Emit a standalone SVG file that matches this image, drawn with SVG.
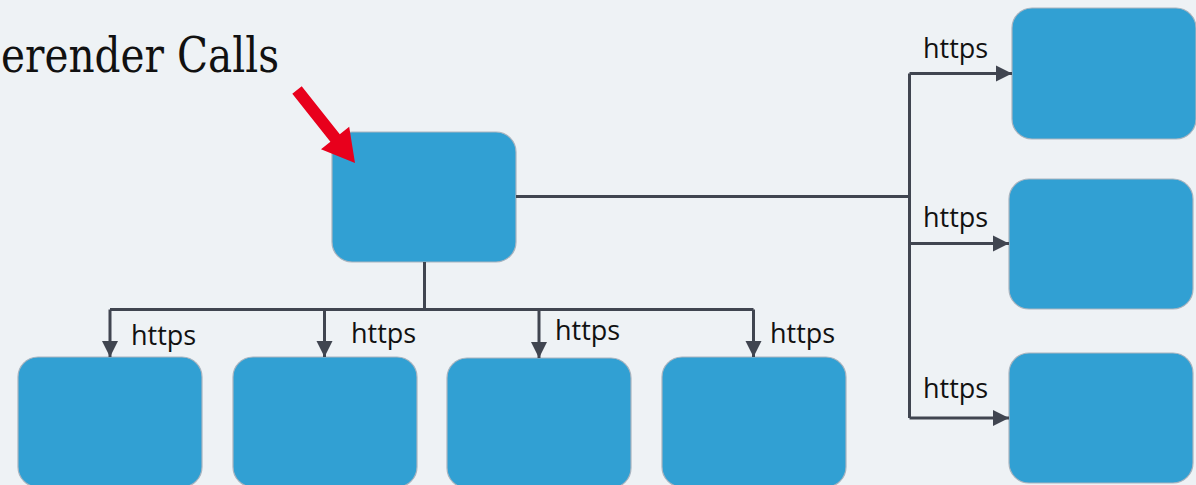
<svg xmlns="http://www.w3.org/2000/svg" width="1196" height="485" viewBox="0 0 1196 485">
  <defs>
    <style>
      .node { fill: #31a0d3; stroke: #a9b4bf; stroke-width: 1.2; }
      .wire { fill: none; stroke: #404550; stroke-width: 3; stroke-linejoin: miter; }
      .lbl { font-family: "Open Sans", "Noto Sans", sans-serif; font-size: 27px; fill: #111111; }
      .title { font-family: "DejaVu Serif", serif; font-size: 48px; fill: #111111; }
    </style>
    <marker id="arrow" viewBox="0 0 12 12" refX="12" refY="6" markerWidth="5.4" markerHeight="5.4" markerUnits="strokeWidth" orient="auto">
      <path d="M0,0 L12,6 L0,12 Z" fill="#404550"/>
    </marker>
  </defs>

  <rect width="1196" height="485" fill="#eef2f5"/>

  <text class="title" x="279" y="72" text-anchor="end" textLength="278" lengthAdjust="spacingAndGlyphs">erender Calls</text>

  <!-- nodes -->
  <g id="node-main"><rect class="node" x="332" y="132" width="184" height="130" rx="20"/></g>
  <g id="node-r1"><rect class="node" x="1012" y="8" width="184" height="131" rx="20"/></g>
  <g id="node-r2"><rect class="node" x="1009" y="179" width="184" height="130" rx="20"/></g>
  <g id="node-r3"><rect class="node" x="1009" y="353" width="184" height="130" rx="20"/></g>
  <g id="node-b1"><rect class="node" x="18" y="357" width="184" height="130" rx="20"/></g>
  <g id="node-b2"><rect class="node" x="233" y="357" width="184" height="130" rx="20"/></g>
  <g id="node-b3"><rect class="node" x="447" y="358" width="184" height="130" rx="20"/></g>
  <g id="node-b4"><rect class="node" x="662" y="357" width="184" height="130" rx="20"/></g>

  <!-- red pointer, drawn over the main node -->
  <g id="pointer">
    <path d="M292.3,93.7 L301.7,86.3 L339.8,134.3 L349.2,126.8 L355,163 L321,149.2 L330.4,141.7 Z" fill="#e8001c"/>
  </g>

  <!-- connectors -->
  <g id="connectors">
    <path class="wire" d="M424.5,262 V309.5"/>
    <path class="wire" d="M110,309.5 H753.5"/>
    <path class="wire" d="M110,309.5 V357" marker-end="url(#arrow)"/>
    <path class="wire" d="M324.5,309.5 V357" marker-end="url(#arrow)"/>
    <path class="wire" d="M539,309.5 V358" marker-end="url(#arrow)"/>
    <path class="wire" d="M753.5,309.5 V357" marker-end="url(#arrow)"/>

    <path class="wire" d="M516,196.5 H909.5"/>
    <path class="wire" d="M909.5,73.5 V418"/>
    <path class="wire" d="M909.5,73.5 H1012" marker-end="url(#arrow)"/>
    <path class="wire" d="M909.5,243.5 H1009" marker-end="url(#arrow)"/>
    <path class="wire" d="M909.5,418 H1009" marker-end="url(#arrow)"/>
  </g>

  <!-- edge labels -->
  <g id="labels">
    <text class="lbl" x="923" y="58">https</text>
    <text class="lbl" x="923" y="227">https</text>
    <text class="lbl" x="923" y="398">https</text>
    <text class="lbl" x="131" y="345">https</text>
    <text class="lbl" x="351" y="343">https</text>
    <text class="lbl" x="555" y="340">https</text>
    <text class="lbl" x="770" y="343">https</text>
  </g>
</svg>
